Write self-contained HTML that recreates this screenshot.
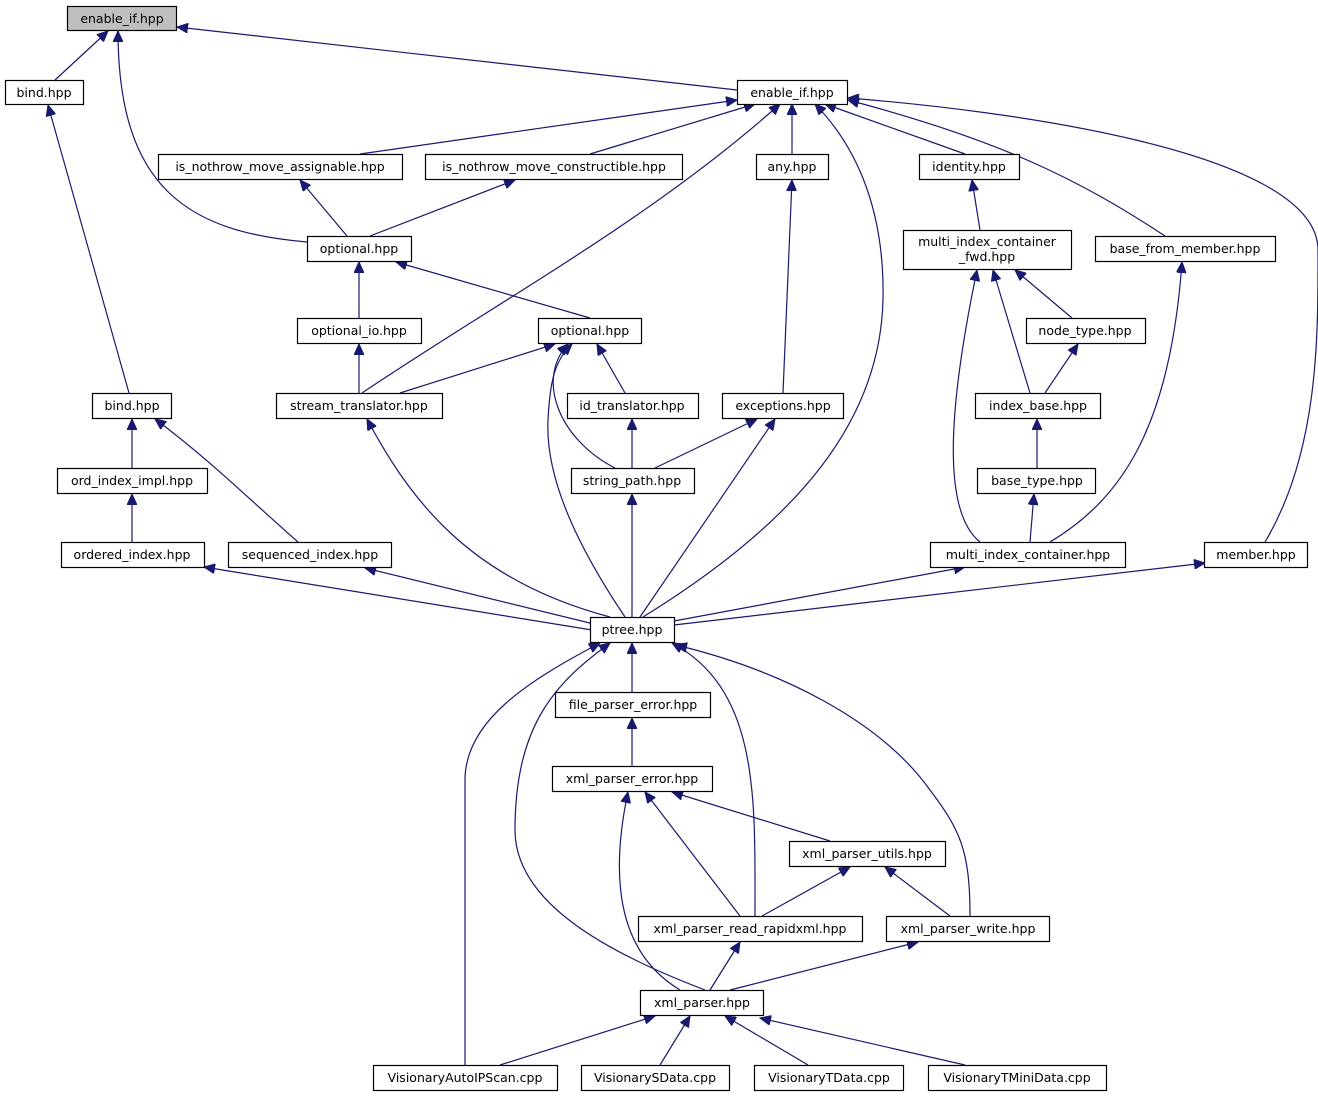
<!DOCTYPE html>
<html><head><meta charset="utf-8"><style>
html,body{margin:0;padding:0;background:#fff;}
svg{display:block;}
text{font-family:"DejaVu Sans","Liberation Sans",sans-serif;font-size:12.5px;fill:#000;text-anchor:middle;}
rect{fill:#fff;stroke:#000;stroke-width:1.2;}
path{fill:none;stroke:#191970;stroke-width:1.2;}
</style></head><body>
<svg width="1318" height="1097" viewBox="0 0 1318 1097" xmlns="http://www.w3.org/2000/svg">
<defs>
<marker id="a" markerWidth="12" markerHeight="10" refX="11" refY="5" orient="auto" markerUnits="userSpaceOnUse">
<path d="M0,0 L11,5 L0,10 Z" style="fill:#191970;stroke:#191970;stroke-width:1"/>
</marker>
</defs>
<g marker-end="url(#a)">
<path d="M55,80 L108,31"/>
<path d="M307,242 C190,232 118,190 118,31"/>
<path d="M737,90 L177,27"/>
<path d="M360,154 L737,100"/>
<path d="M590,154 L755,104"/>
<path d="M362,393 C500,300 650,220 780,104"/>
<path d="M792,154 L792,104"/>
<path d="M643,617 C800,520 880,420 883,300 C885,200 850,140 815,104"/>
<path d="M965,154 L825,104"/>
<path d="M1165,236 C1080,180 1000,140 848,100"/>
<path d="M1265,542 C1320,450 1318,330 1318,250 C1318,150 1000,110 848,98"/>
<path d="M347,236 L300,180"/>
<path d="M370,236 L515,180"/>
<path d="M359,318 L359,262"/>
<path d="M590,318 L396,262"/>
<path d="M359,393 L359,344"/>
<path d="M400,393 L555,344"/>
<path d="M625,393 L597,344"/>
<path d="M615,468 C560,440 535,380 568,344"/>
<path d="M625,617 C580,550 545,480 548,420 C550,380 555,360 572,344"/>
<path d="M783,393 L792,180"/>
<path d="M632,468 L632,419"/>
<path d="M655,468 L757,419"/>
<path d="M640,617 L775,419"/>
<path d="M980,230 L972,180"/>
<path d="M1072,318 L1015,270"/>
<path d="M1030,393 L993,270"/>
<path d="M980,542 C940,510 950,400 977,270"/>
<path d="M1045,393 L1078,344"/>
<path d="M1037,468 L1037,419"/>
<path d="M1030,542 L1034,494"/>
<path d="M1050,542 C1120,500 1170,430 1182,262"/>
<path d="M129,393 L48,105"/>
<path d="M132,468 L132,419"/>
<path d="M298,542 C250,500 210,460 155,419"/>
<path d="M132,542 L132,494"/>
<path d="M592,630 L204,567"/>
<path d="M598,625 L365,568"/>
<path d="M610,617 C470,580 410,500 367,419"/>
<path d="M632,617 L632,494"/>
<path d="M674,621 L965,567"/>
<path d="M674,625 L1205,563"/>
<path d="M632,692 L632,643"/>
<path d="M465,1065 L465,780 C465,720 530,680 600,643"/>
<path d="M705,990 C600,950 515,900 515,830 C515,720 560,680 610,643"/>
<path d="M755,916 C755,800 760,690 672,643"/>
<path d="M970,916 C970,850 960,830 930,790 C880,720 780,670 676,645"/>
<path d="M632,766 L632,718"/>
<path d="M830,841 L672,792"/>
<path d="M740,916 L645,792"/>
<path d="M680,990 C630,960 605,900 628,792"/>
<path d="M762,916 L850,867"/>
<path d="M950,916 L885,867"/>
<path d="M710,990 L740,942"/>
<path d="M730,990 L918,942"/>
<path d="M500,1065 L655,1016"/>
<path d="M660,1065 L690,1016"/>
<path d="M808,1065 L725,1016"/>
<path d="M965,1065 L760,1018"/>
</g>
<g>
<rect x="67.5" y="6.5" width="109" height="24" style="fill:#bfbfbf"/><text x="122" y="23">enable_if.hpp</text>
<rect x="5.5" y="80.5" width="78" height="24"/><text x="44" y="97">bind.hpp</text>
<rect x="737.5" y="80.5" width="110" height="24"/><text x="792" y="97">enable_if.hpp</text>
<rect x="158.5" y="154.5" width="244" height="25"/><text x="280" y="171">is_nothrow_move_assignable.hpp</text>
<rect x="425.5" y="154.5" width="257" height="25"/><text x="554" y="171">is_nothrow_move_constructible.hpp</text>
<rect x="756.5" y="154.5" width="72" height="25"/><text x="792" y="171">any.hpp</text>
<rect x="919.5" y="154.5" width="100" height="25"/><text x="969" y="171">identity.hpp</text>
<rect x="307.5" y="236.5" width="104" height="25"/><text x="359" y="253">optional.hpp</text>
<rect x="903.5" y="230.5" width="168" height="39"/><text x="987" y="246">multi_index_container</text><text x="987" y="261">_fwd.hpp</text>
<rect x="1095.5" y="236.5" width="180" height="25"/><text x="1185" y="253">base_from_member.hpp</text>
<rect x="297.5" y="318.5" width="124" height="25"/><text x="359" y="335">optional_io.hpp</text>
<rect x="538.5" y="318.5" width="103" height="25"/><text x="590" y="335">optional.hpp</text>
<rect x="1026.5" y="318.5" width="119" height="25"/><text x="1085" y="335">node_type.hpp</text>
<rect x="92.5" y="393.5" width="79" height="25"/><text x="132" y="410">bind.hpp</text>
<rect x="276.5" y="393.5" width="166" height="25"/><text x="359" y="410">stream_translator.hpp</text>
<rect x="567.5" y="393.5" width="131" height="25"/><text x="632" y="410">id_translator.hpp</text>
<rect x="722.5" y="393.5" width="121" height="25"/><text x="783" y="410">exceptions.hpp</text>
<rect x="975.5" y="393.5" width="125" height="25"/><text x="1038" y="410">index_base.hpp</text>
<rect x="57.5" y="468.5" width="150" height="25"/><text x="132" y="485">ord_index_impl.hpp</text>
<rect x="571.5" y="468.5" width="123" height="25"/><text x="632" y="485">string_path.hpp</text>
<rect x="977.5" y="468.5" width="118" height="25"/><text x="1037" y="485">base_type.hpp</text>
<rect x="61.5" y="542.5" width="143" height="25"/><text x="132" y="559">ordered_index.hpp</text>
<rect x="228.5" y="542.5" width="163" height="25"/><text x="310" y="559">sequenced_index.hpp</text>
<rect x="930.5" y="542.5" width="195" height="25"/><text x="1028" y="559">multi_index_container.hpp</text>
<rect x="1204.5" y="542.5" width="103" height="25"/><text x="1256" y="559">member.hpp</text>
<rect x="590.5" y="617.5" width="84" height="25"/><text x="632" y="634">ptree.hpp</text>
<rect x="555.5" y="692.5" width="155" height="25"/><text x="633" y="709">file_parser_error.hpp</text>
<rect x="552.5" y="766.5" width="160" height="25"/><text x="632" y="783">xml_parser_error.hpp</text>
<rect x="789.5" y="841.5" width="156" height="25"/><text x="867" y="858">xml_parser_utils.hpp</text>
<rect x="638.5" y="916.5" width="224" height="25"/><text x="750" y="933">xml_parser_read_rapidxml.hpp</text>
<rect x="886.5" y="916.5" width="163" height="25"/><text x="968" y="933">xml_parser_write.hpp</text>
<rect x="640.5" y="990.5" width="123" height="25"/><text x="702" y="1007">xml_parser.hpp</text>
<rect x="373.5" y="1065.5" width="184" height="25"/><text x="465" y="1082">VisionaryAutoIPScan.cpp</text>
<rect x="581.5" y="1065.5" width="148" height="25"/><text x="655" y="1082">VisionarySData.cpp</text>
<rect x="754.5" y="1065.5" width="149" height="25"/><text x="829" y="1082">VisionaryTData.cpp</text>
<rect x="928.5" y="1065.5" width="178" height="25"/><text x="1017" y="1082">VisionaryTMiniData.cpp</text>
</g>
</svg>
</body></html>
